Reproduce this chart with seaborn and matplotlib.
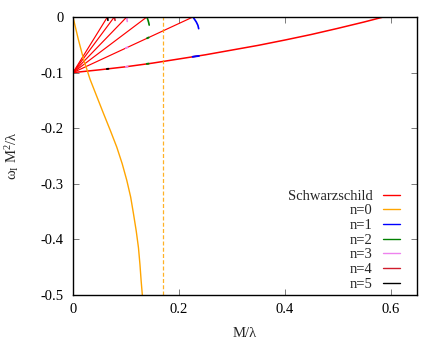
import numpy as np
import matplotlib
matplotlib.use("Agg")
import matplotlib.pyplot as plt
from matplotlib.lines import Line2D
import seaborn as sns
import pandas as pd

# ---------------- data ----------------
# Schwarzschild: fan of straight lines from (0, -0.1) to the top axis
schw_origin = (0.0, -0.1)
schw_fan_ends = [0.065, 0.078, 0.1015, 0.1395, 0.2266]
# Schwarzschild: long slightly curved branch
schw_long_x = [0.0, 0.05, 0.1, 0.15, 0.2, 0.25, 0.3, 0.35, 0.4, 0.45, 0.5, 0.55, 0.5865]
schw_long_y = [-0.1, -0.095, -0.0895, -0.083, -0.0755, -0.068, -0.0595, -0.051,
               -0.0415, -0.0315, -0.0205, -0.009, 0.0]

# n=0 curve and its asymptote
n0_x = [0.0, 0.01, 0.02, 0.0322, 0.045, 0.0574, 0.0705, 0.0827, 0.0930, 0.1017,
        0.1090, 0.1143, 0.1195, 0.1237, 0.1265, 0.1288, 0.1310, 0.1320]
n0_y = [0.0, -0.040, -0.076, -0.112, -0.143, -0.173, -0.204, -0.234, -0.264, -0.294,
        -0.324, -0.354, -0.385, -0.415, -0.445, -0.475, -0.500, -0.520]
n0_asymptote = 0.171

# n=1..5 short arcs at the top axis
n1_top_x = [0.2266, 0.2295, 0.233, 0.236, 0.2375]
n1_top_y = [0.0, -0.004, -0.009, -0.015, -0.021]
n2_top_x = [0.1395, 0.1415, 0.143, 0.144]
n2_top_y = [0.0, -0.005, -0.010, -0.0145]
n3_top_x = [0.1015, 0.102, 0.1025]
n3_top_y = [0.0, -0.004, -0.008]
n4_top_x = [0.078, 0.0788, 0.0795]
n4_top_y = [0.0, -0.003, -0.006]
n5_top_x = [0.065, 0.0657, 0.066]
n5_top_y = [0.0, -0.003, -0.006]

# short visible pieces lying on the Schwarzschild lines
n1_low_x = [0.226, 0.232, 0.238]
n1_low_y = [-0.0716, -0.0707, -0.0700]
n2_mid_x = [0.140, 0.143]
n2_mid_y = [-0.0382, -0.0369]
n2_low_x = [0.1395, 0.143]
n2_low_y = [-0.0843, -0.0839]
n3_mid_x = [0.100, 0.103]
n3_mid_y = [-0.0559, -0.0545]
n3_low_x = [0.100, 0.103]
n3_low_y = [-0.0895, -0.0891]
n5_low_x = [0.064, 0.067]
n5_low_y = [-0.0935, -0.0931]

legend_labels = ["Schwarzschild", "n=0", "n=1", "n=2", "n=3", "n=4", "n=5"]
colors = ["#ff0000", "#ffa500", "#0000ff", "#008000", "#ee82ee", "#d01c2c", "#000000"]

xticks = [0, 0.2, 0.4, 0.6]
xtick_labels = ["0", "0.2", "0.4", "0.6"]
yticks = [0, -0.1, -0.2, -0.3, -0.4, -0.5]
ytick_labels = ["0", "-0.1", "-0.2", "-0.3", "-0.4", "-0.5"]

# ---------------- style ----------------
sns.set_theme(style="ticks")
plt.rcParams["font.family"] = ["Liberation Serif", "DejaVu Serif"]
plt.rcParams["mathtext.fontset"] = "custom"
plt.rcParams["mathtext.rm"] = "Liberation Serif"
plt.rcParams["mathtext.it"] = "Liberation Serif:italic"

fig = plt.figure(figsize=(4.44, 3.42), dpi=100)
ax = fig.add_axes([73 / 444, 1 - 295 / 342, 344 / 444, 278 / 342])


def draw(xs, ys, color, lw=1.0, **kw):
    df = pd.DataFrame({"x": xs, "y": ys})
    sns.lineplot(data=df, x="x", y="y", ax=ax, color=color, lw=lw,
                 sort=False, estimator=None, legend=False, **kw)


# Schwarzschild
for xe in schw_fan_ends:
    draw([schw_origin[0], xe], [schw_origin[1], 0.0], colors[0], lw=0.85)
draw(schw_long_x, schw_long_y, colors[0], lw=1.1)

# n=0
draw(n0_x, n0_y, colors[1], lw=1.0)
ax.axvline(n0_asymptote, color=colors[1], lw=0.9, ls=(0, (3.2, 1.8)), alpha=0.85)

# n=1..5
draw(n1_top_x, n1_top_y, colors[2], lw=1.2)
draw(n1_low_x, n1_low_y, colors[2], lw=1.4)
draw(n2_top_x, n2_top_y, colors[3], lw=1.2)
draw(n2_mid_x, n2_mid_y, colors[3], lw=1.4)
draw(n2_low_x, n2_low_y, colors[3], lw=1.4)
draw(n3_top_x, n3_top_y, colors[4], lw=1.2)
draw(n3_mid_x, n3_mid_y, colors[4], lw=1.4)
draw(n3_low_x, n3_low_y, colors[4], lw=1.4)
draw(n4_top_x, n4_top_y, colors[5], lw=1.2)
draw(n5_top_x, n5_top_y, colors[6], lw=1.2)
draw(n5_low_x, n5_low_y, colors[6], lw=1.4)

# axes
ax.set_xlim(0, 0.65)
ax.set_ylim(-0.5, 0)
ax.set_xticks(xticks)
ax.set_xticklabels(xtick_labels)
ax.set_yticks(yticks)
ax.set_yticklabels(ytick_labels)
ax.tick_params(direction="in", top=True, right=True, length=4, width=0.6,
               color="#666666", labelsize=10.5, colors="black")
ax.tick_params(axis="y", pad=7)
ax.tick_params(axis="x", pad=6)
for s in ax.spines.values():
    s.set_visible(True)
    s.set_color("black")
    s.set_linewidth(1.0)

ax.set_xlabel("M/λ", fontsize=10.5)
ax.set_ylabel("ω$_\\mathrm{I}$ M$^2$/λ", fontsize=10.5)
ax.xaxis.set_label_coords(0.5, -0.115)
ax.yaxis.set_label_coords(-0.152, 0.5)

handles = [Line2D([], [], color=c, lw=1.0) for c in colors]
leg = ax.legend(handles, legend_labels, loc="lower right",
                bbox_to_anchor=(0.951, 0.015), frameon=False, markerfirst=False,
                fontsize=10.5, handlelength=1.2, handletextpad=0.7,
                labelspacing=0.1, borderpad=0, borderaxespad=0)

fig.savefig("out.png", dpi=100)
